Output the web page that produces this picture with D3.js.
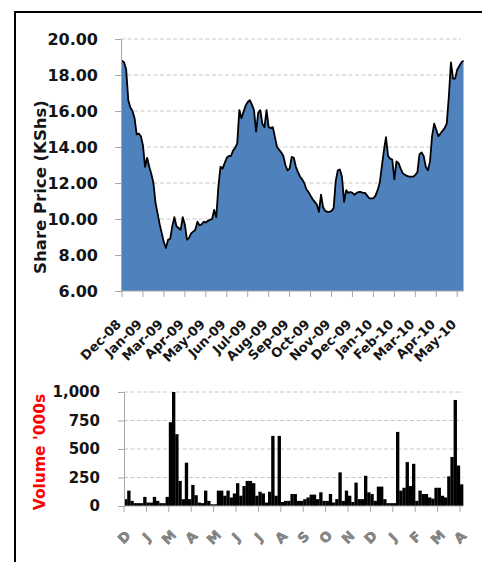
<!DOCTYPE html>
<html>
<head>
<meta charset="utf-8">
<script src="https://cdn.jsdelivr.net/npm/d3@7/dist/d3.min.js"></script>
<style>
  html, body { margin: 0; padding: 0; background: #fff; }
  svg { display: block; }
</style>
</head>
<body>
<svg id="chart" width="482" height="562"></svg>
<script>
// ---------- DATA ----------
// Share price (KShs), Dec-08 .. May-10
const priceValues = [
  18.8, 18.7, 18.3, 16.6, 16.2, 16.0, 15.6, 14.7, 14.75, 14.6,
  14.1, 12.9, 13.4, 12.9, 12.5, 12.0, 10.9, 10.3, 9.7, 9.2,
  8.7, 8.4, 8.85, 8.9, 9.6, 10.1, 9.6, 9.5, 9.4, 10.1,
  9.7, 8.85, 8.95, 9.2, 9.3, 9.4, 9.85, 9.65, 9.7, 9.85,
  9.8, 9.9, 9.95, 10.0, 10.5, 10.1, 11.8, 12.9, 12.8, 13.1,
  13.4, 13.5, 13.5, 13.8, 13.95, 14.2, 16.05, 15.6, 15.95, 16.3,
  16.5, 16.6, 16.35, 16.05, 14.85, 15.9, 16.05, 15.3, 15.1, 16.05,
  15.1, 15.05, 15.1, 14.55, 14.0, 13.85, 13.7, 13.5, 13.0, 12.7,
  12.8, 13.45, 13.4, 12.9, 12.6, 12.35, 12.2, 12.0, 11.65, 11.5,
  11.3, 11.1, 10.95, 10.8, 10.4, 11.35, 10.65, 10.45, 10.4, 10.4,
  10.45, 10.6, 12.1, 12.7, 12.75, 12.35, 10.95, 11.6, 11.45, 11.5,
  11.45, 11.35, 11.45, 11.5, 11.5, 11.45, 11.45, 11.3, 11.15, 11.15,
  11.15, 11.3, 11.6, 12.0, 12.9, 13.8, 14.55, 13.5, 13.35, 13.3,
  12.2, 13.2, 13.1, 12.8, 12.55, 12.45, 12.4, 12.35, 12.35, 12.35,
  12.45, 12.6, 13.6, 13.7, 13.5, 12.9, 12.7, 13.2, 14.6, 15.3,
  14.95, 14.6, 14.75, 14.9, 15.05, 15.3, 16.8, 18.7, 17.8, 17.8,
  18.3, 18.5, 18.7, 18.8
];
const priceTickLabels = [
  "Dec-08", "Jan-09", "Mar-09", "Apr-09", "May-09", "Jun-09", "Jul-09",
  "Aug-09", "Sep-09", "Oct-09", "Nov-09", "Dec-09", "Jan-10", "Feb-10",
  "Mar-10", "Apr-10", "May-10"
];
const priceTickEvery = 10;
const priceYTicks = [6, 8, 10, 12, 14, 16, 18, 20];

// Volume ('000s)
const volumeValues = [
  60, 135, 45, 25, 25, 25, 80, 30, 30, 80,
  45, 25, 25, 80, 735, 1000, 630, 220, 60, 380,
  60, 185, 95, 30, 25, 135, 45, 15, 15, 135,
  135, 90, 135, 75, 110, 200, 90, 175, 220, 220,
  200, 90, 125, 110, 30, 125, 615, 90, 615, 35,
  45, 45, 105, 105, 45, 45, 60, 75, 100, 100,
  60, 120, 45, 45, 105, 30, 60, 295, 45, 135,
  90, 35, 205, 60, 60, 265, 120, 105, 45, 170,
  170, 60, 25, 25, 25, 650, 135, 160, 385, 175,
  370, 45, 135, 105, 105, 75, 65, 160, 160, 90,
  75, 260, 430, 930, 355, 190
];
const volumeTickLabels = ["D","J","M","A","M","J","J","A","S","O","N","D","J","F","M","A"];
const volumeTickEvery = 7;
const volumeYTicks = [0, 250, 500, 750, 1000];

// ---------- DRAW ----------
const svg = d3.select("#chart");
const FONT = "'DejaVu Sans', Verdana, sans-serif";
const axisGray = "#a6a6a6";
const gridGray = "#c8c8c8";

svg.append("path")
  .attr("d", "M15,562 V12 H482")
  .attr("fill", "none").attr("stroke", "#000").attr("stroke-width", 2);

// ----- price chart -----
const px0 = 121, px1 = 463.5, pyTop = 39, pyBot = 291;
const xP = d3.scaleLinear().domain([0, priceValues.length - 1]).range([122, px1]);
const yP = d3.scaleLinear().domain([6, 20]).range([pyBot, pyTop]);

const gP = svg.append("g");
gP.selectAll("line.grid").data(priceYTicks.filter(d => d > 6)).join("line")
  .attr("class", "grid")
  .attr("x1", px0).attr("x2", 461)
  .attr("y1", d => yP(d)).attr("y2", d => yP(d))
  .attr("stroke", gridGray).attr("stroke-width", 1.2).attr("stroke-dasharray", "4,2.5");

gP.append("path").datum(priceValues)
  .attr("d", d3.area().x((d, i) => xP(i)).y0(yP(6)).y1(d => yP(d)))
  .attr("fill", "#4f81bd");
gP.append("path").datum(priceValues)
  .attr("d", d3.line().x((d, i) => xP(i)).y(d => yP(d)))
  .attr("fill", "none").attr("stroke", "#000").attr("stroke-width", 1.8)
  .attr("stroke-linejoin", "round");

const yAxisP = d3.axisLeft(yP).tickValues(priceYTicks).tickSize(6).tickPadding(17)
  .tickFormat(d3.format(".2f"));
const gYP = gP.append("g").attr("transform", `translate(${px0},0)`).call(yAxisP);
gYP.select(".domain").attr("stroke", axisGray);
gYP.selectAll(".tick line").attr("stroke", axisGray);
gYP.selectAll(".tick text").attr("font-family", FONT).attr("font-weight", "bold")
  .attr("font-size", 16).attr("fill", "#151515");

const xTicksP = d3.range(0, priceValues.length, priceTickEvery);
gP.append("line").attr("x1", px0).attr("x2", px1).attr("y1", pyBot).attr("y2", pyBot)
  .attr("stroke", axisGray);
gP.selectAll("line.xt").data(xTicksP).join("line").attr("class", "xt")
  .attr("x1", d => xP(d)).attr("x2", d => xP(d))
  .attr("y1", pyBot).attr("y2", pyBot + 6).attr("stroke", axisGray);
gP.selectAll("text.xl").data(xTicksP).join("text").attr("class", "xl")
  .attr("transform", d => `translate(${xP(d)},325) rotate(-45)`)
  .attr("text-anchor", "end")
  .attr("font-family", FONT).attr("font-weight", "bold").attr("font-size", 13)
  .attr("fill", "#151515")
  .text((d, i) => priceTickLabels[i]);

svg.append("text")
  .attr("transform", "translate(40,187) rotate(-90)")
  .attr("text-anchor", "middle").attr("dominant-baseline", "central")
  .attr("font-family", FONT).attr("font-weight", "bold").attr("font-size", 16.5)
  .attr("fill", "#151515")
  .text("Share Price (KShs)");

// ----- volume chart -----
const vx0 = 124, vx1 = 463.2, vyTop = 392, vyBot = 506;
const xV = d3.scaleBand().domain(d3.range(volumeValues.length)).range([vx0, vx1]).padding(0);
const yV = d3.scaleLinear().domain([0, 1000]).range([vyBot, vyTop]);

const gV = svg.append("g");
gV.selectAll("line.grid").data(volumeYTicks.filter(d => d > 0)).join("line")
  .attr("class", "grid")
  .attr("x1", vx0).attr("x2", 463)
  .attr("y1", d => yV(d)).attr("y2", d => yV(d))
  .attr("stroke", gridGray).attr("stroke-width", 1.2).attr("stroke-dasharray", "4,2.5");

gV.selectAll("rect.bar").data(volumeValues).join("rect").attr("class", "bar")
  .attr("x", (d, i) => xV(i))
  .attr("width", xV.bandwidth() + 0.15)
  .attr("y", d => yV(d))
  .attr("height", d => yV(0) - yV(d))
  .attr("fill", "#000");

const yAxisV = d3.axisLeft(yV).tickValues(volumeYTicks).tickSize(6).tickPadding(18)
  .tickFormat(d3.format(","));
const gYV = gV.append("g").attr("transform", `translate(${vx0},0)`).call(yAxisV);
gYV.select(".domain").attr("stroke", axisGray);
gYV.selectAll(".tick line").attr("stroke", axisGray);
gYV.selectAll(".tick text").attr("font-family", FONT).attr("font-weight", "bold")
  .attr("font-size", 15).attr("fill", "#151515");

const xTicksV = d3.range(0, volumeValues.length, volumeTickEvery);
gV.append("line").attr("x1", vx0).attr("x2", vx1).attr("y1", vyBot).attr("y2", vyBot)
  .attr("stroke", axisGray);
gV.selectAll("line.xt").data(xTicksV).join("line").attr("class", "xt")
  .attr("x1", d => xV(d)).attr("x2", d => xV(d))
  .attr("y1", vyBot).attr("y2", vyBot + 6).attr("stroke", axisGray);
gV.selectAll("text.xl").data(xTicksV).join("text").attr("class", "xl")
  .attr("transform", d => `translate(${xV(d)},537) rotate(-45)`)
  .attr("text-anchor", "middle").attr("dominant-baseline", "central")
  .attr("font-family", FONT).attr("font-weight", "bold").attr("font-size", 13.5)
  .attr("fill", "#8a8a8a").attr("stroke", "#555").attr("stroke-width", 0.4)
  .text((d, i) => volumeTickLabels[i]);

svg.append("text")
  .attr("transform", "translate(40,452) rotate(-90)")
  .attr("text-anchor", "middle").attr("dominant-baseline", "central")
  .attr("font-family", FONT).attr("font-weight", "bold").attr("font-size", 15.5)
  .attr("fill", "#ff0000")
  .text("Volume '000s");
</script>
</body>
</html>
